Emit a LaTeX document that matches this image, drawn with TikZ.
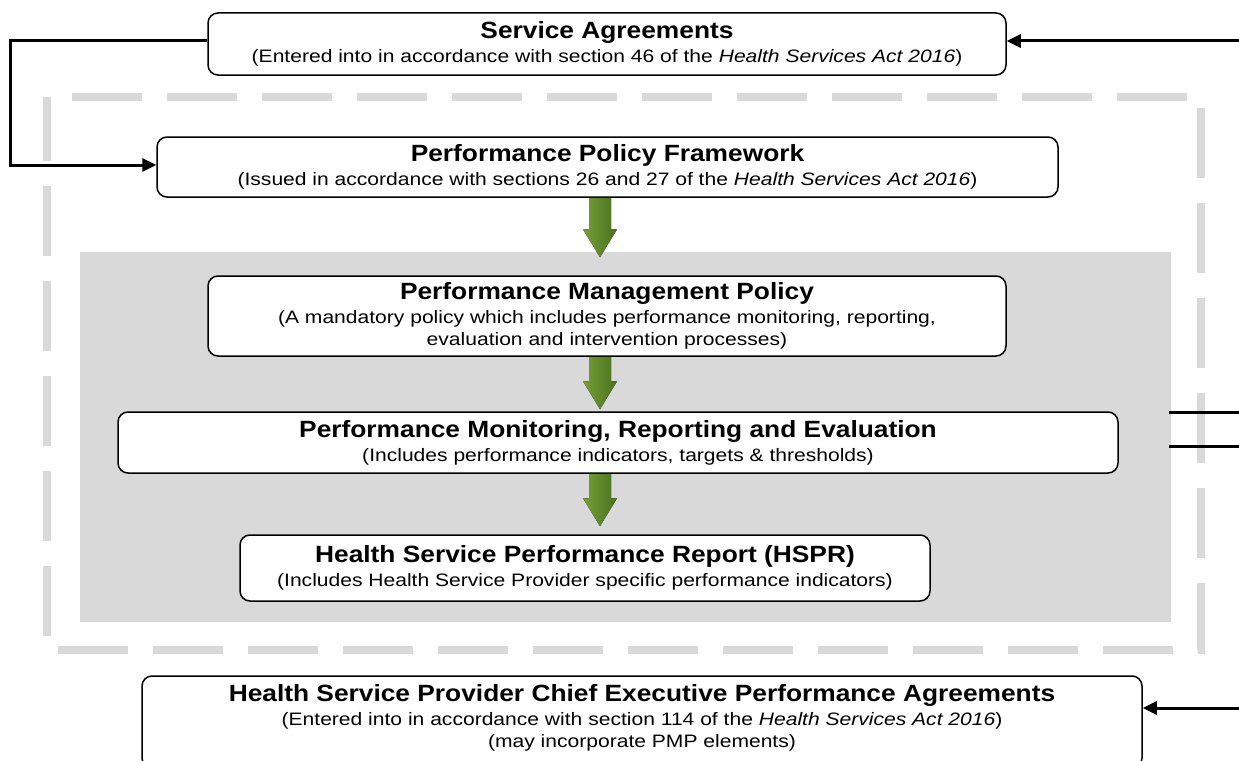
\documentclass[tikz,border=0pt]{standalone}
\usepackage{fontspec}
\setmainfont{Liberation Sans}
\newfontfamily\ttlfont[FakeStretch=1.12]{Liberation Sans}
\newfontfamily\subfont[FakeStretch=1.17]{Liberation Sans}
\usetikzlibrary{arrows.meta,calc}
\definecolor{dashgrey}{HTML}{D9D9D9}
\definecolor{panelgrey}{HTML}{D9D9D9}
\definecolor{gleft}{RGB}{118,160,56}
\definecolor{gright}{RGB}{72,112,30}
\tikzset{
  box/.style={draw=black, line width=1.5pt, rounded corners=10pt, fill=white,
    align=center, inner sep=0pt, font=\subfont\fontsize{18}{22}\selectfont},
  conn/.style={line width=3pt, -{Triangle[length=14pt,width=13pt]}},
  plainconn/.style={line width=3pt},
  greenarrow/.style={left color=gleft, right color=gright, draw=none},
  dashframe/.style={draw=dashgrey, line width=8pt, dash pattern=on 70pt off 25pt, dash phase=70pt},
}
\newcommand{\ttltxt}[1]{{\ttlfont\fontsize{23.5}{22}\selectfont\bfseries #1}}
\newcommand{\greenarr}[2]{%
  \fill[greenarrow] ($(#1)+(-11,0)$) -- ($(#1)+(11,0)$) -- ($(#2)+(11,-28)$) -- ($(#2)+(17,-28)$)
    -- (#2) -- ($(#2)+(-17,-28)$) -- ($(#2)+(-11,-28)$) -- cycle;}
\begin{document}
\begin{tikzpicture}[x=1pt,y=-1pt]
\useasboundingbox (0,0) rectangle (1239,760);
\clip (0,0) rectangle (1239,760);
% background frame and panel
\draw[dashframe] (47,97) -- (1201,97) -- (1201,650) -- (47,650) -- cycle;
\fill[panelgrey] (80,252) rectangle (1171,622);

% boxes
\node[box, minimum width=798pt, minimum height=62pt] (SA) at (607,44)
  {\ttltxt{Service Agreements}\\[2pt](Entered into in accordance with section 46 of the \textit{Health Services Act 2016})};
\node[box, minimum width=901pt, minimum height=60pt] (PPF) at (607.5,167)
  {\ttltxt{Performance Policy Framework}\\[2pt](Issued in accordance with sections 26 and 27 of the \textit{Health Services Act 2016})};
\node[box, minimum width=798pt, minimum height=80pt] (PMP) at (607,316)
  {\ttltxt{Performance Management Policy}\\[2pt](A mandatory policy which includes performance monitoring, reporting,\\evaluation and intervention processes)};
\node[box, minimum width=1000pt, minimum height=61pt] (PMRE) at (618,442.5)
  {\ttltxt{Performance Monitoring, Reporting and Evaluation}\\[2pt](Includes performance indicators, targets \& thresholds)};
\node[box, minimum width=690pt, minimum height=66pt] (HSPR) at (585,568)
  {\ttltxt{Health Service Performance Report (HSPR)}\\[2pt](Includes Health Service Provider specific performance indicators)};
\node[box, minimum width=1000pt, minimum height=92pt, text depth=12pt] (HSPCE) at (642,722)
  {\ttltxt{Health Service Provider Chief Executive Performance Agreements}\\[2pt](Entered into in accordance with section 114 of the \textit{Health Services Act 2016})\\(may incorporate PMP elements)};

% connectors
\coordinate (leftrail) at (10,0);
\coordinate (ySA) at (0,41);
\coordinate (yPPF) at (0,165);
\coordinate (rSA) at (1239,41);
\coordinate (rHS) at (1239,708);
\coordinate (rl1a) at (1169,412);
\coordinate (rl1b) at (1239,412);
\coordinate (rl2a) at (1169,446);
\coordinate (rl2b) at (1239,446);
\draw[conn] (SA.west |- ySA) -| (leftrail |- yPPF) -- (PPF.west |- yPPF);
\draw[conn] (rSA) -- (SA.east |- rSA);
\draw[conn] (rHS) -- (HSPCE.east |- rHS);
\draw[plainconn] (rl1a) -- (rl1b);
\draw[plainconn] (rl2a) -- (rl2b);

% green block arrows
\coordinate (ax) at (600,0);
\greenarr{ax |- PPF.south}{$(ax |- PMP.north)+(0,-18)$}
\greenarr{ax |- PMP.south}{$(ax |- PMRE.north)+(0,-2)$}
\greenarr{ax |- PMRE.south}{$(ax |- HSPR.north)+(0,-8)$}
\end{tikzpicture}
\end{document}
